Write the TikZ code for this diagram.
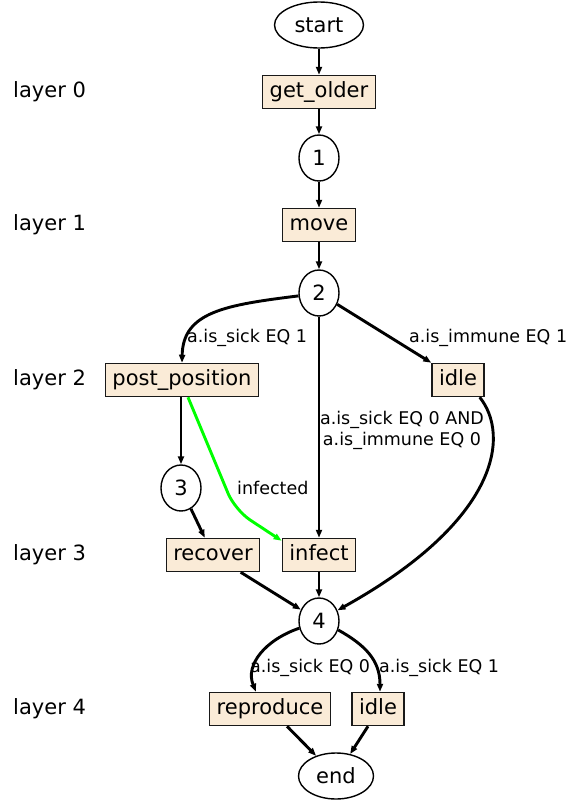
\documentclass[tikz,border=0pt]{standalone}
\usepackage{fontspec}
\setmainfont{DejaVu Sans}
\usetikzlibrary{shapes.geometric,arrows.meta}
\definecolor{actfill}{RGB}{250,235,215}
\begin{document}
\begin{tikzpicture}[x=1pt,y=-1pt,
  state/.style={ellipse,draw,line width=1.4pt,fill=white,inner sep=0pt,
    minimum height=46pt,font=\fontsize{21}{25}\selectfont},
  act/.style={rectangle,draw=black!90,line width=1.5pt,fill=actfill,
    inner xsep=7pt,inner ysep=0pt,minimum height=33pt,
    text height=15pt,text depth=4.5pt,font=\fontsize{21}{25}\selectfont},
  layerlbl/.style={anchor=west,inner sep=0pt,font=\fontsize{21}{25}\selectfont},
  elbl/.style={anchor=west,inner sep=0pt,font=\fontsize{17.5}{21}\selectfont},
  flow/.style={line width=2.9pt,-{Triangle[length=8pt,width=6pt]}},
  trigger/.style={flow,draw={rgb,255:red,0;green,255;blue,0},rounded corners=18pt},
]
\useasboundingbox (0,0) rectangle (569,801);

% layer captions
\node[layerlbl] (L0) at (13,92)  {layer 0};
\node[layerlbl] (L1) at (13,225) {layer 1};
\node[layerlbl] (L2) at (13,380) {layer 2};
\node[layerlbl] (L3) at (13,555) {layer 3};
\node[layerlbl] (L4) at (13,709) {layer 4};

% states
\node[state,minimum width=89pt] (start) at (319,25)  {start};
\node[state,minimum width=40pt] (n1)    at (319,158) {1};
\node[state,minimum width=40pt] (n2)    at (319,293) {2};
\node[state,minimum width=40pt] (n3)    at (181,488) {3};
\node[state,minimum width=40pt] (n4)    at (319,621) {4};
\node[state,minimum width=75pt] (end)   at (336,776) {end};

% actions
\node[act] (getolder) at (319,92)  {get\_older};
\node[act] (move)     at (319,225) {move};
\node[act] (pp)       at (182,380) {post\_position};
\node[act] (idleA)    at (458,380) {idle};
\node[act] (recover)  at (213,555) {recover};
\node[act] (infect)   at (319,555) {infect};
\node[act] (repro)    at (270,709) {reproduce};
\node[act] (idleB)    at (378,709) {idle};

\coordinate (gbend) at (235,510);

% transitions
\draw[flow] (start) -- (getolder);
\draw[flow] (getolder) -- (n1);
\draw[flow] (n1) -- (move);
\draw[flow] (move) -- (n2);
\draw[flow] (n2.188) .. controls (225,305) and (183,312) .. (pp.north);
\draw[flow] (n2) -- (idleA.north west);
\draw[flow] (n2) -- (infect);
\draw[flow] ([xshift=-5pt]idleA.south east) .. controls (510,435) and (500,520) .. (n4.30);
\draw[flow] (n3 |- pp.south) -- (n3.north);
\draw[trigger] ([xshift=6pt]pp.south) -- (gbend) -- ([yshift=-3pt]infect.north west);
\draw[flow] (n3) -- (recover);
\draw[flow] (recover) -- (n4);
\draw[flow] (infect) -- (n4);
\draw[flow] (n4.200) .. controls (265,640) and (245,665) .. ([xshift=-14pt]repro.north);
\draw[flow] (n4.-25) .. controls (365,645) and (380,660) .. ([xshift=2pt]idleB.north);
\draw[flow] ([xshift=17pt]repro.south) -- (end);
\draw[flow] ([xshift=-10pt]idleB.south) -- (end);

% guards
\node[elbl] (g1) at (187,338) {a.is\_sick EQ 1};
\node[elbl] (g2) at (409,338) {a.is\_immune EQ 1};
\node[elbl,anchor=center,align=center] (g3) at (402,430) {a.is\_sick EQ 0 AND\\a.is\_immune EQ 0};
\node[elbl] (g4) at (237,488) {infected};
\node[elbl] (g5) at (250,668) {a.is\_sick EQ 0};
\node[elbl] (g6) at (379,668) {a.is\_sick EQ 1};
\end{tikzpicture}
\end{document}
